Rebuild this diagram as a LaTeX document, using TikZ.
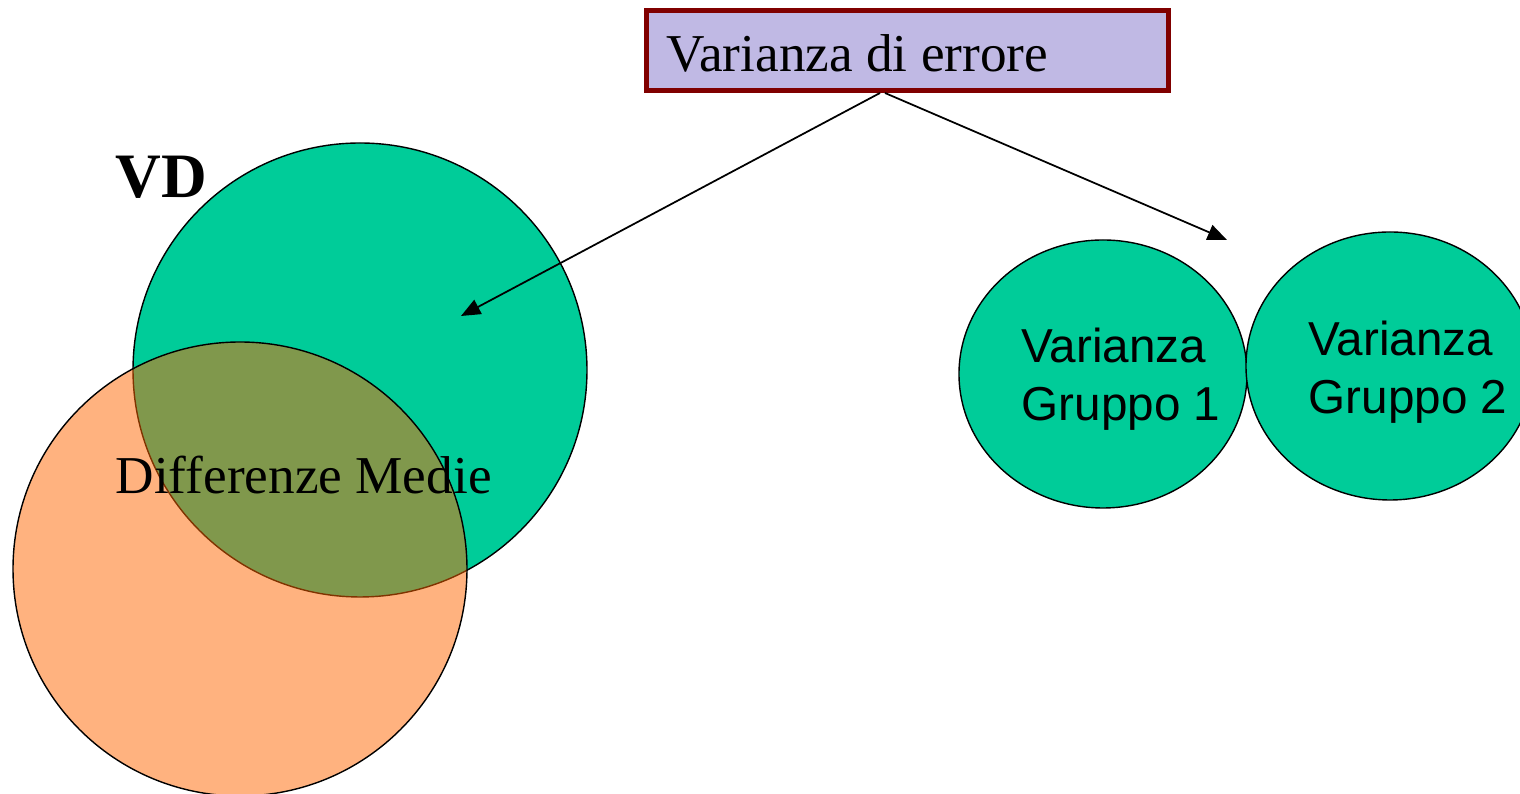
\documentclass[tikz,border=0pt]{standalone}
\usepackage{fontspec}
\setmainfont{Liberation Serif}
\setsansfont{Liberation Sans}
\usetikzlibrary{shapes.geometric,arrows.meta}
\definecolor{vgreen}{RGB}{0,204,153}
\definecolor{vorange}{RGB}{255,102,0}
\definecolor{lav}{RGB}{192,185,228}
\definecolor{darkred}{RGB}{128,0,0}
\tikzset{
  bigcirc/.style={circle, draw=black, line width=0.4pt, minimum size=4.54cm, inner sep=0pt},
  grpell/.style={ellipse, draw=black, fill=vgreen, line width=0.4pt, minimum width=2.88cm, minimum height=2.68cm, inner sep=0pt},
  serif/.style={font=\fontsize{15.15}{18}\selectfont, inner sep=0pt, anchor=base west},
  sans/.style={font=\sffamily\fontsize{13.55}{16}\selectfont, inner sep=0pt, anchor=base west},
  conn/.style={-{Triangle[length=5.5pt,width=4.5pt]}, line width=0.5pt}
}
\begin{document}
\begin{tikzpicture}
\useasboundingbox (0,0) rectangle (15.2,7.94);
% large circles
\node[bigcirc, fill=vgreen] (vd) at (3.60,4.24) {};
\node[bigcirc, fill=vorange, fill opacity=0.5] (dm) at (2.40,2.25) {};
\node[font=\bfseries\fontsize{18}{21}\selectfont, inner sep=0pt, anchor=base west] (vdlab) at (1.15,5.96) {VD};
\node[serif] (dmlab) at (1.15,3.00) {Differenze Medie};
% group ellipses
\node[grpell] (g1) at (11.03,4.20) {};
\node[grpell] (g2) at (13.90,4.28) {};
\node[sans] (g1a) at (10.21,4.31) {Varianza};
\node[sans] (g1b) at (10.21,3.73) {Gruppo 1};
\node[sans] (g2a) at (13.08,4.38) {Varianza};
\node[sans] (g2b) at (13.08,3.80) {Gruppo 2};
% error box
\node[draw=darkred, fill=lav, line width=1.4pt, minimum width=5.22cm, minimum height=0.80cm, inner sep=0pt] (err) at (9.075,7.435) {};
\node[serif] (errlab) at (6.66,7.22) {Varianza di errore};
% arrows
\coordinate (s1) at (8.80,7.01);
\coordinate (s2) at (8.85,7.01);
\coordinate (t1) at (4.61,4.78);
\coordinate (t2) at (12.27,5.54);
\draw[conn] (s1) -- (t1);
\draw[conn] (s2) -- (t2);
\end{tikzpicture}
\end{document}
